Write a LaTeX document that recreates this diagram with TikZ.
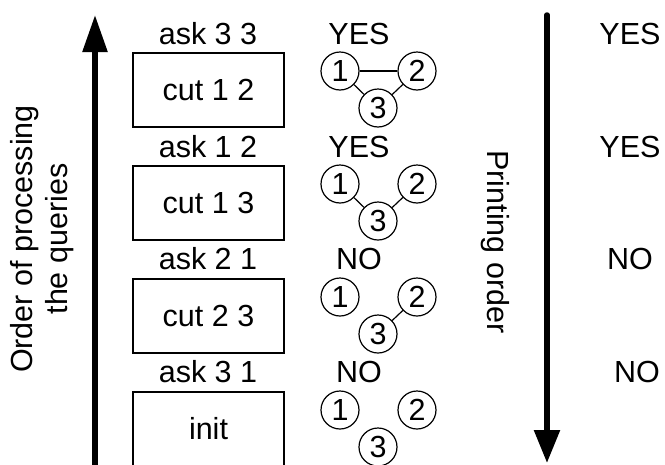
\documentclass[tikz,border=0pt]{standalone}
\usepackage{fontspec}
\setmainfont{Liberation Sans}
\usetikzlibrary{arrows.meta}
\newcommand\dfont{\fontsize{30.5pt}{35pt}\selectfont}
\tikzset{
  lbl/.style={font=\dfont, inner sep=0pt},
  opbox/.style={draw, line width=1.2pt, minimum width=151pt, minimum height=74pt, inner sep=0pt, font=\dfont},
  vtx/.style={draw, circle, line width=1.2pt, minimum size=38pt, inner sep=0pt, font=\dfont},
  edge/.style={line width=1.2pt},
  bigarrow/.style={line width=5.5pt, -{Triangle[length=37pt,width=24pt]}},
}
\begin{document}
\begin{tikzpicture}[x=1pt,y=-1pt]
\useasboundingbox (0,0) rectangle (665,464);
% left arrow
\coordinate (la0) at (95,475);
\coordinate (la1) at (95,15);
\draw[bigarrow] (la0) -- (la1);
\node[lbl, rotate=90, align=center] (ordtxt) at (42,239) {Order of processing\\the queries};
% right arrow
\coordinate (ra0) at (547,15);
\coordinate (ra1) at (547,463);
\draw[line width=5.5pt, line cap=round, -{Triangle[length=33pt,width=25pt]}] (ra0) -- (ra1);
\node[lbl, rotate=-90] (prtxt) at (495,242) {Printing order};
% boxes and ask labels
\node[lbl] (ask0) at (208,34) {ask 3 3};
\node[opbox] (box0) at (208.5,90) {cut 1 2};
\node[lbl] (ask1) at (208,147) {ask 1 2};
\node[opbox] (box1) at (208.5,203) {cut 1 3};
\node[lbl] (ask2) at (208,259) {ask 2 1};
\node[opbox] (box2) at (208.5,316) {cut 2 3};
\node[lbl] (ask3) at (208,372) {ask 3 1};
\node[opbox] (box3) at (208.5,429) {init};
% middle answers
\node[lbl] (ans0) at (359,34) {YES};
\node[lbl] (ans1) at (359,147) {YES};
\node[lbl] (ans2) at (359,259) {NO};
\node[lbl] (ans3) at (359,372) {NO};
% right answers
\node[lbl] (out0) at (630,34) {YES};
\node[lbl] (out1) at (630,147) {YES};
\node[lbl] (out2) at (630,259) {NO};
\node[lbl] (out3) at (637,372) {NO};
% graphs
\foreach \i/\dy in {0/0,1/113,2/226,3/339}{
  \node[vtx] (g\i a) at (340,71+\dy) {1};
  \node[vtx] (g\i b) at (417,71+\dy) {2};
  \node[vtx] (g\i c) at (378,108+\dy) {3};
}
\draw[edge] (g0a) -- (g0b);
\draw[edge] (g0a) -- (g0c);
\draw[edge] (g0b) -- (g0c);
\draw[edge] (g1a) -- (g1c);
\draw[edge] (g1b) -- (g1c);
\draw[edge] (g2b) -- (g2c);
\end{tikzpicture}
\end{document}
